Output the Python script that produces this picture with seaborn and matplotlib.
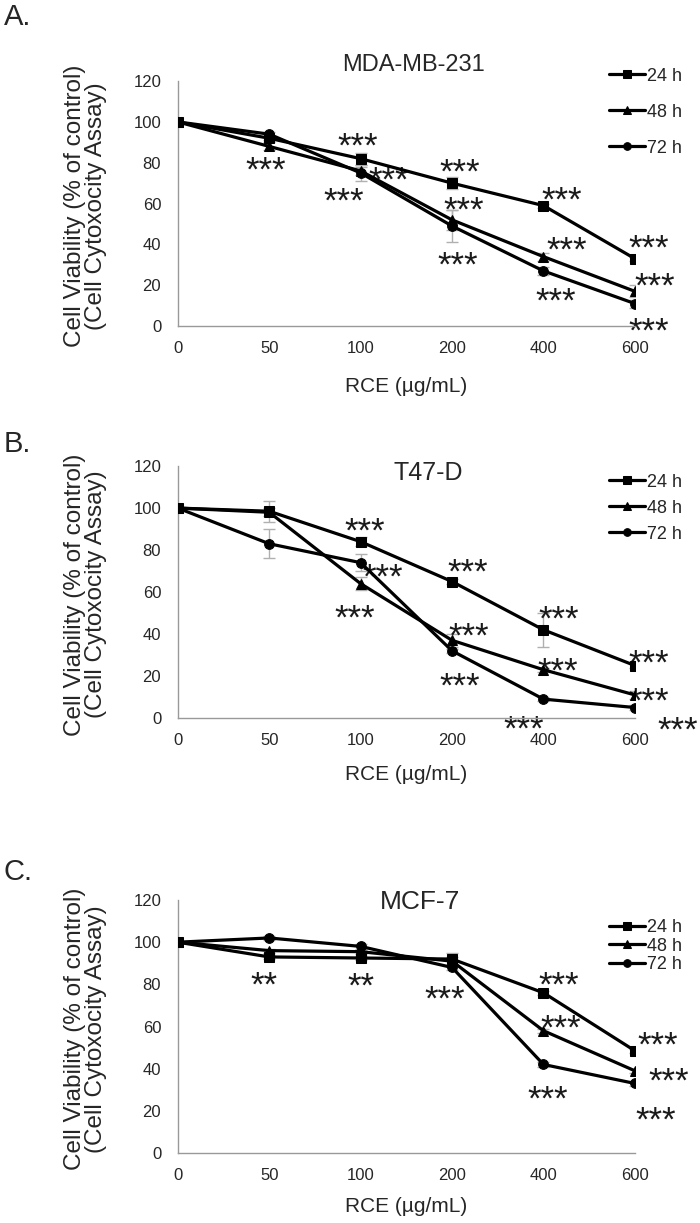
import numpy as np
import pandas as pd
import seaborn as sns
import matplotlib.pyplot as plt
from matplotlib.transforms import offset_copy

# doses (ug/mL) shown as evenly spaced categories
doses = ['0', '50', '100', '200', '400', '600']
times = ['24 h', '48 h', '72 h']

# MDA-MB-231
mda_24 = [100, 92, 82, 70, 59, 33]
mda_48 = [100, 88, 76, 52, 34, 17]
mda_72 = [100, 94, 75, 49, 27, 11]
mda_err_24 = [0, 1, 3, 3, 1, 1]
mda_err_48 = [0, 2, 2, 5, 2, 3]
mda_err_72 = [0, 1, 4, 8, 2, 2]

# T47-D
t47_24 = [100, 98.5, 84, 65, 42, 25]
t47_48 = [100, 98, 64, 37, 23, 11]
t47_72 = [100, 83, 74, 32, 9, 5]
t47_err_24 = [0, 5, 2, 1, 8, 1]
t47_err_48 = [0, 2, 3, 3, 1, 2]
t47_err_72 = [0, 7, 4, 1, 1, 1]

# MCF-7
mcf_24 = [100, 93, 92.5, 92, 76, 48.5]
mcf_48 = [100, 96, 95.5, 91, 58, 39]
mcf_72 = [100, 102, 98, 88, 42, 33]
mcf_err_24 = [0, 1, 1, 3, 1, 1]
mcf_err_48 = [0, 1, 1, 2, 1, 1]
mcf_err_72 = [0, 1, 1, 1, 1, 1]

# significance marks: (dose position, viability at centre of the stars, text)
mda_stars = [(1.97, 92.7, '***'), (0.96, 81.3, '***'), (2.31, 76, '***'), (1.81, 65.8, '***'),
             (3.08, 80, '***'), (3.13, 61.7, '***'), (3.06, 34.8, '***'),
             (4.2, 66.6, '***'), (4.25, 42, '***'), (4.13, 16.8, '***'),
             (5.15, 43, '***'), (5.22, 24.2, '***'), (5.15, 2.1, '***')]
t47_stars = [(2.04, 93.5, '***'), (2.24, 71.8, '***'), (1.94, 52.3, '***'),
             (3.17, 74, '***'), (3.18, 43.6, '***'), (3.08, 19.8, '***'),
             (4.17, 51.8, '***'), (4.15, 26.9, '***'), (3.78, -0.8, '***'),
             (5.15, 30.9, '***'), (5.15, 12.7, '***'), (5.47, -1.1, '***')]
mcf_stars = [(0.94, 84.4, '**'), (2.0, 83.9, '**'), (2.92, 77.6, '***'),
             (4.17, 84.4, '***'), (4.19, 63.8, '***'), (4.05, 30.1, '***'),
             (5.25, 55.9, '***'), (5.37, 38.9, '***'), (5.23, 20.3, '***')]

panels = [
    ('A.', 'MDA-MB-231', [mda_24, mda_48, mda_72], [mda_err_24, mda_err_48, mda_err_72], mda_stars),
    ('B.', 'T47-D', [t47_24, t47_48, t47_72], [t47_err_24, t47_err_48, t47_err_72], t47_stars),
    ('C.', 'MCF-7', [mcf_24, mcf_48, mcf_72], [mcf_err_24, mcf_err_48, mcf_err_72], mcf_stars),
]

sns.set_style('white')
plt.rcParams['font.family'] = ['Liberation Sans', 'DejaVu Sans']

fig = plt.figure(figsize=(7, 12.23), dpi=100)

# layout per panel (figure fractions), picked to match the reference
boxes = [[0.254, 0.7334, 0.653, 0.2003],
         [0.254, 0.4129, 0.653, 0.2060],
         [0.254, 0.0572, 0.653, 0.2069]]
letter_y = [1 - 25 / 1223, 1 - 452 / 1223, 1 - 880 / 1223]
title_xy = [(0.516, 1.065, 17), (0.548, 0.972, 18), (0.529, 0.992, 19)]
legend_y = [0.873, 0.833, 0.818]
legend_sp = [1.05, 0.5, 0.08]
xlabel_y = [-0.206, -0.185, -0.172]
star_size = 25

for i, (letter, title, series, errs, stars) in enumerate(panels):
    ax = fig.add_axes(boxes[i])
    rows = []
    for t, vals in zip(times, series):
        for p, v in enumerate(vals):
            rows.append({'pos': p, 'viability': v, 'time': t})
    df = pd.DataFrame(rows)

    # grey error bars underneath
    for vals, e in zip(series, errs):
        ax.errorbar(range(len(doses)), vals, yerr=e, fmt='none', ecolor='#b0b0b0',
                    elinewidth=1, capsize=4, capthick=1, zorder=1)

    sns.lineplot(data=df, x='pos', y='viability', hue='time', style='time',
                 palette=['black'] * 3, markers=['s', '^', 'o'], dashes=False,
                 linewidth=2.3, markersize=7, markeredgecolor='black',
                 ax=ax, zorder=3)

    # asterisk glyphs sit high in the line, so anchor on the baseline and drop it
    star_tr = offset_copy(ax.transData, fig=fig, y=-0.58 * star_size, units='points')
    for x, y, s in stars:
        ax.text(x, y, s, ha='center', va='baseline', fontsize=star_size,
                color='#1a1a1a', transform=star_tr, zorder=2)

    ax.set_xlim(0, 5)
    ax.set_ylim(0, 120)
    ax.set_xticks(range(len(doses)))
    ax.set_xticklabels(doses)
    ax.set_yticks(np.arange(0, 121, 20))
    ax.tick_params(axis='x', length=3, width=1, color='#999999', pad=8, labelsize=12, direction='out')
    ax.tick_params(axis='y', length=4, width=1, color='#999999', pad=8, labelsize=12, direction='out')
    for side in ['top', 'right']:
        ax.spines[side].set_visible(False)
    for side in ['left', 'bottom']:
        ax.spines[side].set_color('#999999')
        ax.spines[side].set_linewidth(1)

    ax.set_xlabel('RCE (µg/mL)', fontsize=15)
    ax.xaxis.set_label_coords(0.5, xlabel_y[i])
    ax.set_ylabel('')
    ax.text(-0.201, 0.49, 'Cell Viability (% of control)\n(Cell Cytoxocity Assay)',
            transform=ax.transAxes, rotation=90, ha='center', va='center',
            fontsize=17.5, linespacing=0.95, multialignment='center')

    tx, ty, tsize = title_xy[i]
    ax.text(tx, ty, title, transform=ax.transAxes, ha='center', va='center', fontsize=tsize)

    old = ax.get_legend()
    handles = old.legend_handles
    labels = [t.get_text() for t in old.texts]
    old.remove()
    for h in handles:
        h.set_markersize(5.5)
    ax.legend(handles, labels, loc='center left', bbox_to_anchor=(0.943, legend_y[i]),
              frameon=False, fontsize=13, handlelength=2.0, handletextpad=0.1,
              labelspacing=legend_sp[i], borderpad=0, borderaxespad=0)

    fig.text(0.005, letter_y[i], letter, fontsize=21, va='baseline', ha='left')

fig.savefig('out.png', dpi=100)
